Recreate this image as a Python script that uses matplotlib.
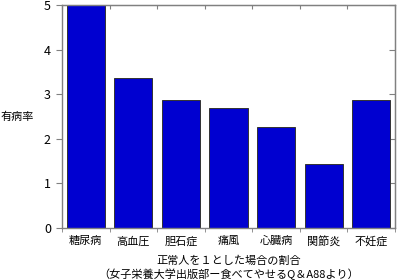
import matplotlib.pyplot as plt
import numpy as np

plt.rcParams['font.family'] = ['Noto Sans CJK JP', 'DejaVu Sans']

diseases = ["糖尿病", "高血圧", "胆石症", "痛風", "心臓病", "関節炎", "不妊症"]
ratios = [5.0, 3.36, 2.88, 2.69, 2.26, 1.44, 2.88]
yticks = [0, 1, 2, 3, 4, 5]

fig = plt.figure(figsize=(3.99, 2.80), dpi=100)
ax = fig.add_axes([0.1554, 0.186, 0.8346, 0.796])

x = np.arange(len(diseases))
ax.bar(x, ratios, width=0.8, color="#0000d0", edgecolor="#333333", linewidth=0.7, zorder=2)

ax.set_xlim(-0.5, len(diseases) - 0.5)
ax.set_ylim(0, 5)
ax.set_yticks(yticks)
ax.set_xticks(x)
ax.set_xticklabels(diseases, fontsize=8)
ax.tick_params(axis='x', length=0, pad=6)
ax.set_xticks(np.arange(len(diseases) + 1) - 0.5, minor=True)
ax.tick_params(axis='x', which='minor', direction='out', length=3, color='#808080')
ax.tick_params(axis='y', direction='out', length=4, color='#808080', labelsize=9, pad=4)

for s in ax.spines.values():
    s.set_color('#808080')
    s.set_linewidth(1.0)

top = ax.secondary_xaxis('top')
top.set_xticks(np.arange(len(diseases) + 1) - 0.5)
top.tick_params(direction='in', length=3, color='#808080', labelbottom=False, labeltop=False)
top.spines['top'].set_color('#808080')

right = ax.secondary_yaxis('right')
right.set_yticks(yticks)
right.tick_params(direction='in', length=4, color='#808080', labelright=False)
right.spines['right'].set_color('#808080')

fig.text(0.002, 0.583, "有病率", fontsize=8, ha='left', va='center')
ax.set_xlabel("正常人を１とした場合の割合\n（女子栄養大学出版部ー食べてやせるQ＆A88より）",
              fontsize=8, linespacing=1.3, labelpad=6)

plt.savefig("out.png", dpi=100)
